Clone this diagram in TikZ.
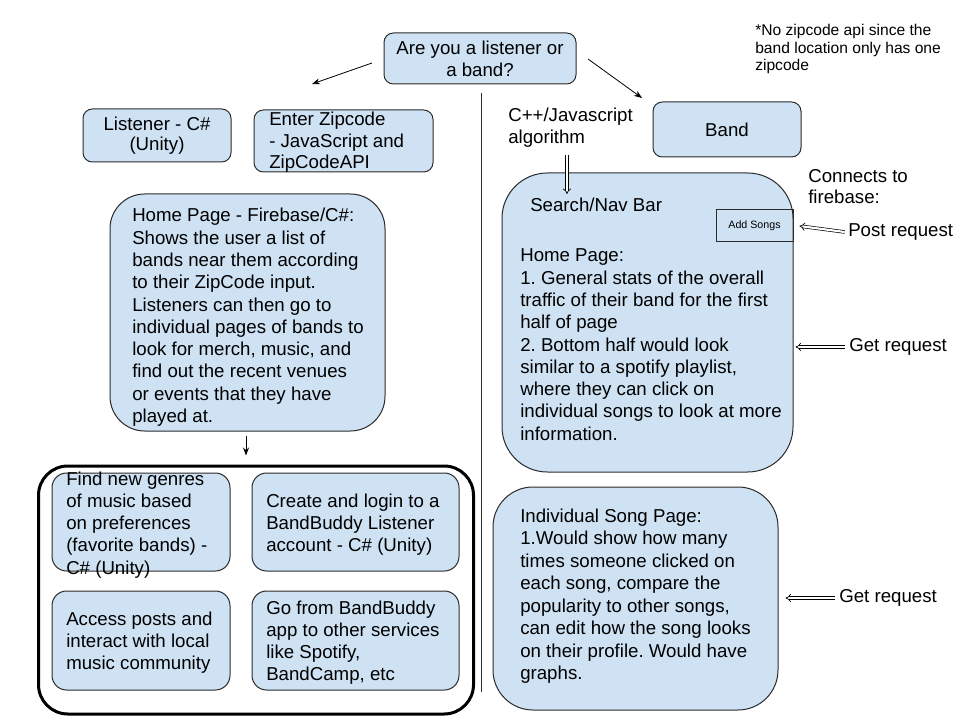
\documentclass[tikz,border=0pt]{standalone}
\usepackage{fontspec}
\setmainfont{Liberation Sans}
\usetikzlibrary{arrows.meta,calc}
\definecolor{boxblue}{HTML}{CFE2F3}
\definecolor{edgegray}{HTML}{2B2B2B}
\newcommand{\tline}[1]{\hbox{#1}}
\frenchspacing
\begin{document}
\frenchspacing
\begin{tikzpicture}[x=0.75pt,y=-0.75pt,
  box/.style={draw=edgegray, fill=boxblue, line width=0.75pt, rounded corners=#1, inner sep=0pt},
  box/.default=7pt,
  txt/.style={font=\fontsize{14}{16.7}\selectfont, inner sep=0pt, anchor=base west},
  ctxt/.style={font=\fontsize{14}{16.5}\selectfont, align=center, inner sep=0pt},
  arr/.style={-{Stealth[length=6pt,width=4.5pt]}, line width=0.6pt},
  dbl/.style={double, double distance=1.6pt, line width=0.5pt, -{Implies}}
]
\fill[white] (0,0) rectangle (960,720);
\useasboundingbox (0,0) rectangle (960,720);

% ---------- top question ----------
\node[box, minimum width=144pt, minimum height=38.25pt, ctxt] (q) at (480,58.5) {Are you a listener or\\a band?};
\node[txt, font=\fontsize{11.7}{13.1}\selectfont] (note) at (755,36)
  {\vtop{\tline{*No zipcode api since the}\tline{band location only has one}\tline{zipcode}}};
\coordinate (la1) at (372,63);
\coordinate (la2) at (312,84);
\coordinate (ra1) at (588,59);
\coordinate (ra2) at (642,98);
\draw[arr] (la1) -- (la2);
\draw[arr] (ra1) -- (ra2);

% divider
\coordinate (div1) at (481,93);
\coordinate (div2) at (481,692);
\draw[line width=0.75pt, edgegray] (div1) -- (div2);

% ---------- listener side ----------
\node[box, minimum width=111pt, minimum height=39.75pt, font=\fontsize{14}{15}\selectfont, align=center] (listener) at (157,135.5) {Listener - C\#\\(Unity)};
\node[box, minimum width=134.25pt, minimum height=46.5pt] (zip) at (343.5,141) {};
\node[txt, font=\fontsize{14}{15.8}\selectfont] (ziptext) at (269,126) {\vtop{\tline{Enter Zipcode}\tline{- JavaScript and}\tline{ZipCodeAPI}}};

\node[box=26pt, minimum width=206.25pt, minimum height=177.75pt] (home) at (247.5,312.5) {};
\node[txt] (hometext) at (132,222) {\vtop{\tline{Home Page - Firebase/C\#:}\tline{Shows the user a list of}\tline{bands near them according}\tline{to their ZipCode input.}\tline{Listeners can then go to}\tline{individual pages of bands to}\tline{look for merch, music, and}\tline{find out the recent venues}\tline{or events that they have}\tline{played at.}}};

\node[draw=black, line width=2.25pt, rounded corners=22pt, minimum width=326.25pt, minimum height=186pt, inner sep=0pt] (group) at (256,590) {};
\draw[arr] ($(home.south)+(-1.5,4)$) -- ($(home.south |- group.north)+(-1.5,-9)$);

\node[box=11pt, minimum width=133.5pt, minimum height=73.5pt] (f1) at (141,522) {};
\node[box=11pt, minimum width=155.25pt, minimum height=73.5pt] (f2) at (355.5,522) {};
\node[box=11pt, minimum width=133.5pt, minimum height=74.25pt] (f3) at (141,640.5) {};
\node[box=11pt, minimum width=155.25pt, minimum height=74.25pt] (f4) at (355.5,640.5) {};
\node[txt] (f1text) at (66,485) {\vtop{\tline{Find new genres}\tline{of music based}\tline{on preferences}\tline{(favorite bands) -}\tline{C\# (Unity)}}};
\node[txt] (f2text) at (266,507) {\vtop{\tline{Create and login to a}\tline{BandBuddy Listener}\tline{account - C\# (Unity)}}};
\node[txt] (f3text) at (66,625) {\vtop{\tline{Access posts and}\tline{interact with local}\tline{music community}}};
\node[txt] (f4text) at (266,614) {\vtop{\tline{Go from BandBuddy}\tline{app to other services}\tline{like Spotify,}\tline{BandCamp, etc}}};

% ---------- band side ----------
\node[txt, font=\fontsize{14}{15.8}\selectfont] (algo) at (508,122) {\vtop{\tline{C++/Javascript}\tline{algorithm}}};
\node[box, minimum width=111pt, minimum height=41.25pt, ctxt] (band) at (727,129.5) {Band};

\node[box=34pt, minimum width=218.25pt, minimum height=224.25pt] (bandhome) at (647.5,322.5) {};
\node[draw=edgegray, line width=0.75pt, minimum width=57.75pt, minimum height=24pt, inner sep=0pt, font=\fontsize{8}{9.6}\selectfont] (addsongs) at (754.5,226) {Add Songs};
\node[txt] (navbar) at (530,212) {Search/Nav Bar};
\node[txt] (bandhometext) at (520,262) {\vtop{\tline{Home Page:}\tline{1. General stats of the overall}\tline{traffic of their band for the first}\tline{half of page}\tline{2. Bottom half would look}\tline{similar to a spotify playlist,}\tline{where they can click on}\tline{individual songs to look at more}\tline{information.}}};

\coordinate (algoarrow1) at (567,155);
\coordinate (algoarrow2) at (567,194);
\draw[dbl] (algoarrow1) -- (algoarrow2);

\node[box=30pt, minimum width=213.75pt, minimum height=167.25pt] (song) at (635.5,598.5) {};
\node[txt, font=\fontsize{14}{16.9}\selectfont] (songtext) at (520,522) {\vtop{\tline{Individual Song Page:}\tline{1.Would show how many}\tline{times someone clicked on}\tline{each song, compare the}\tline{popularity to other songs,}\tline{can edit how the song looks}\tline{on their profile. Would have}\tline{graphs.}}};

\node[txt, font=\fontsize{14}{15.5}\selectfont] (firebase) at (808,183) {\vtop{\tline{Connects to}\tline{firebase:}}};
\node[inner sep=0pt, anchor=west, font=\fontsize{14}{16.7}\selectfont] (post) at (848,232) {Post request};
\node[inner sep=0pt, anchor=west, font=\fontsize{14}{16.7}\selectfont] (get1) at (849,347) {Get request};
\node[inner sep=0pt, anchor=west, font=\fontsize{14}{16.7}\selectfont] (get2) at (839,598) {Get request};

\draw[dbl] ([xshift=-2.5pt]post.west) -- ($(addsongs.east)+(6,0)$);
\draw[dbl] ([xshift=-3pt]get1.west) -- ($(bandhome.east |- get1.west)+(2,0)$);
\draw[dbl] ([xshift=-3pt]get2.west) -- ($(song.east |- get2.west)+(7,0)$);
\end{tikzpicture}
\end{document}
